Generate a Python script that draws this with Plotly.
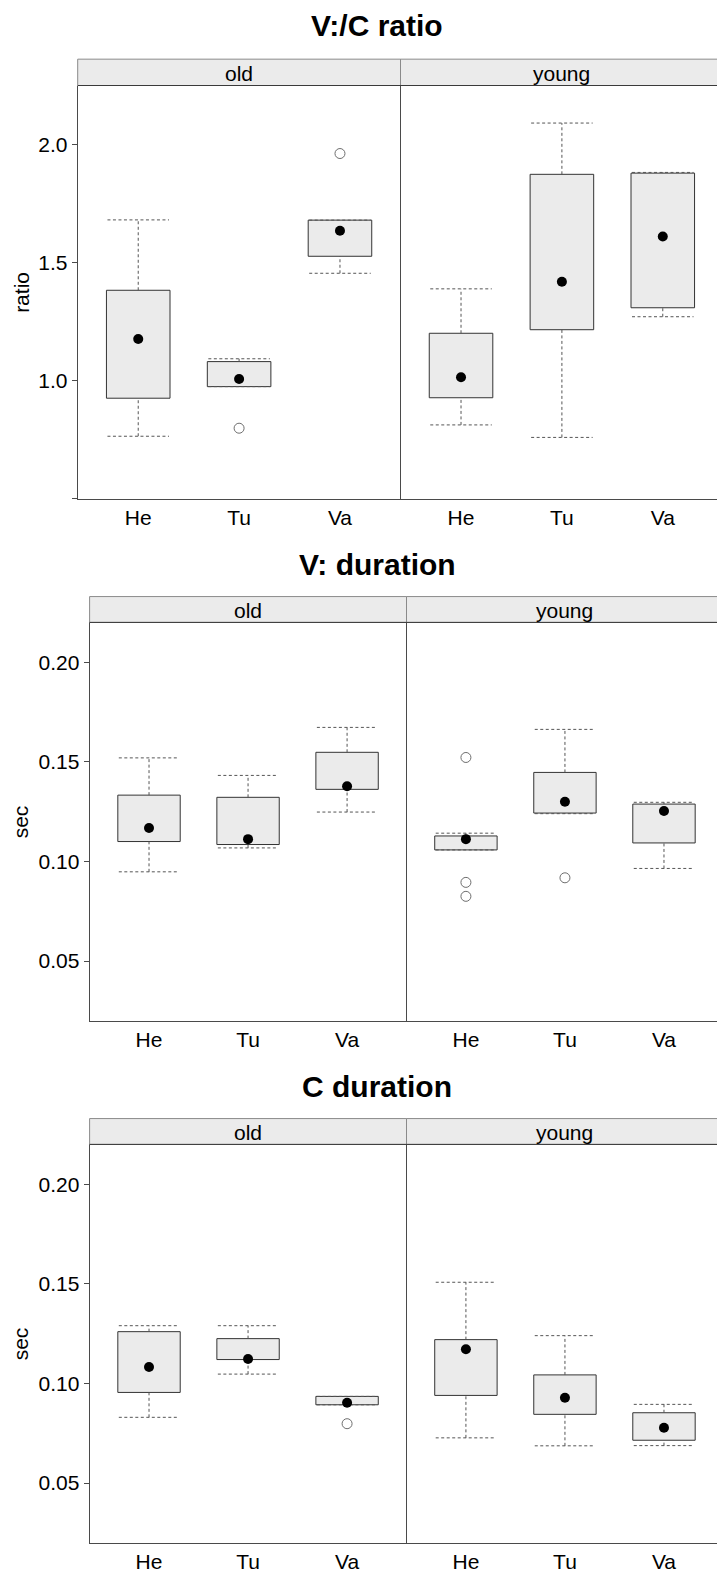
import plotly.graph_objects as go

# ---------------- data ----------------
categories = ["He", "Tu", "Va"]
facets = ["old", "young"]
titles = ["V:/C ratio", "V: duration", "C duration"]
ylabels = ["ratio", "sec", "sec"]

# V:/C ratio
ratio_lo  = {"old": [0.765, 0.975, 1.455], "young": [0.813, 0.760, 1.271]}
ratio_q1  = {"old": [0.926, 0.975, 1.527], "young": [0.928, 1.216, 1.309]}
ratio_med = {"old": [1.177, 1.007, 1.635], "young": [1.015, 1.419, 1.611]}
ratio_q3  = {"old": [1.383, 1.081, 1.680], "young": [1.201, 1.874, 1.879]}
ratio_hi  = {"old": [1.681, 1.093, 1.680], "young": [1.389, 2.091, 1.882]}
ratio_out = {"old": [[], [0.799], [1.962]], "young": [[], [], []]}

# V: duration
vdur_lo  = {"old": [0.0948, 0.1068, 0.1248], "young": [0.1058, 0.1240, 0.0965]}
vdur_q1  = {"old": [0.1100, 0.1085, 0.1362], "young": [0.1058, 0.1243, 0.1093]}
vdur_med = {"old": [0.1168, 0.1112, 0.1378], "young": [0.1112, 0.1300, 0.1253]}
vdur_q3  = {"old": [0.1333, 0.1322, 0.1548], "young": [0.1128, 0.1447, 0.1288]}
vdur_hi  = {"old": [0.1520, 0.1432, 0.1673], "young": [0.1142, 0.1663, 0.1297]}
vdur_out = {"old": [[], [], []], "young": [[0.1522, 0.0895, 0.0825], [0.0918], []]}

# C duration
cdur_lo  = {"old": [0.0830, 0.1047, 0.0893], "young": [0.0727, 0.0687, 0.0688]}
cdur_q1  = {"old": [0.0955, 0.1120, 0.0893], "young": [0.0940, 0.0845, 0.0715]}
cdur_med = {"old": [0.1083, 0.1123, 0.0903], "young": [0.1172, 0.0928, 0.0778]}
cdur_q3  = {"old": [0.1260, 0.1225, 0.0935], "young": [0.1220, 0.1043, 0.0853]}
cdur_hi  = {"old": [0.1290, 0.1290, 0.0935], "young": [0.1508, 0.1240, 0.0895]}
cdur_out = {"old": [[], [], [0.0798]], "young": [[], [], []]}

ratio_ticks = [0.5, 1.0, 1.5, 2.0]
ratio_ticktext = ["", "1.0", "1.5", "2.0"]
sec_ticks = [0.05, 0.10, 0.15, 0.20]
sec_ticktext = ["0.05", "0.10", "0.15", "0.20"]

ratio_range = [0.5, 2.25]
sec_range = [0.02, 0.22]

stats = [
    (ratio_lo, ratio_q1, ratio_med, ratio_q3, ratio_hi, ratio_out),
    (vdur_lo, vdur_q1, vdur_med, vdur_q3, vdur_hi, vdur_out),
    (cdur_lo, cdur_q1, cdur_med, cdur_q3, cdur_hi, cdur_out),
]
yticks = [(ratio_ticks, ratio_ticktext), (sec_ticks, sec_ticktext), (sec_ticks, sec_ticktext)]
yranges = [ratio_range, sec_range, sec_range]

# ---------------- layout geometry (pixels) ----------------
W, H = 717, 1573
geom = [
    dict(left=77.7, mid=400.5, top=86.0, bottom=501.7, strip_top=59.5, title_y=24.7),
    dict(left=89.6, mid=406.5, top=626.0, bottom=1026.7, strip_top=600.0, title_y=566.7),
    dict(left=89.6, mid=406.5, top=1151.0, bottom=1551.7, strip_top=1125.0, title_y=1092.2),
]
TITLE_X = 377.0
YLAB_X = 20.7

FONT = "Liberation Sans, Arial, Helvetica, sans-serif"
BOX_FILL = "#EBEBEB"
BOX_LINE = "#333333"
WHISK = "#555555"
FRAME = "#4a4a4a"
BOX_W = 0.63
CAP_W = 0.61


def fx(px):
    return px / W


def fy(px):
    return 1 - px / H


fig = go.Figure()
layout = dict(
    width=W, height=H, margin=dict(l=0, r=0, t=0, b=0),
    paper_bgcolor="white", plot_bgcolor="white",
    showlegend=False, font=dict(family=FONT, size=21, color="black"),
)
shapes = []
annotations = []

xpos = [i + 1 for i in range(len(categories))]

for p in range(3):
    g = geom[p]
    lo, q1, med, q3, hi, out = stats[p]
    old_w = g["mid"] - g["left"]
    young_w = W - g["mid"]
    for f, facet in enumerate(facets):
        idx = p * 2 + f + 1
        xa = "x" if idx == 1 else f"x{idx}"
        ya = "y" if idx == 1 else f"y{idx}"
        xkey = "xaxis" if idx == 1 else f"xaxis{idx}"
        ykey = "yaxis" if idx == 1 else f"yaxis{idx}"
        if f == 0:
            dom = [fx(g["left"]), fx(g["mid"])]
            xr = [0.4, 3.6]
        else:
            dom = [fx(g["mid"]), 1.0]
            xr = [0.4, 0.4 + 3.2 * young_w / old_w]
        layout[xkey] = dict(
            domain=dom, range=xr, anchor=ya, tickmode="array",
            tickvals=xpos, ticktext=categories, ticks="", showgrid=False,
            zeroline=False, showline=True, linecolor=FRAME, linewidth=1,
            tickfont=dict(size=21, family=FONT, color="black"), fixedrange=True,
        )
        ydict = dict(
            domain=[fy(g["bottom"]), fy(g["top"])], range=yranges[p], anchor=xa,
            showgrid=False, zeroline=False, showline=True, linecolor=FRAME,
            linewidth=1, fixedrange=True,
        )
        if f == 0:
            ydict.update(tickmode="array", tickvals=yticks[p][0], ticktext=yticks[p][1],
                         ticks="outside", ticklen=5, tickcolor=FRAME, tickwidth=1,
                         tickfont=dict(size=21, family=FONT, color="black"))
        else:
            ydict.update(showticklabels=False, ticks="")
        layout[ykey] = ydict

        L, Q1, M, Q3, HI, OUT = lo[facet], q1[facet], med[facet], q3[facet], hi[facet], out[facet]

        # boxes
        fig.add_trace(go.Bar(
            x=xpos, base=Q1, y=[b - a for a, b in zip(Q1, Q3)], width=BOX_W,
            marker=dict(color=BOX_FILL, line=dict(color=BOX_LINE, width=1)),
            xaxis=xa, yaxis=ya, hoverinfo="skip",
        ))
        # whiskers
        wx, wy = [], []
        for i, x in enumerate(xpos):
            if HI[i] > Q3[i]:
                wx += [x, x, None]
                wy += [Q3[i], HI[i], None]
            if L[i] < Q1[i]:
                wx += [x, x, None]
                wy += [L[i], Q1[i], None]
            wx += [x - CAP_W / 2, x + CAP_W / 2, None, x - CAP_W / 2, x + CAP_W / 2, None]
            wy += [HI[i], HI[i], None, L[i], L[i], None]
        fig.add_trace(go.Scatter(
            x=wx, y=wy, mode="lines",
            line=dict(color=WHISK, width=1, dash="3px,2.5px"),
            xaxis=xa, yaxis=ya, hoverinfo="skip",
        ))
        # medians
        fig.add_trace(go.Scatter(
            x=xpos, y=M, mode="markers",
            marker=dict(symbol="circle", size=10, color="black"),
            xaxis=xa, yaxis=ya, hoverinfo="skip",
        ))
        # outliers
        ox, oy = [], []
        for i, x in enumerate(xpos):
            for v in OUT[i]:
                ox.append(x)
                oy.append(v)
        if ox:
            fig.add_trace(go.Scatter(
                x=ox, y=oy, mode="markers",
                marker=dict(symbol="circle-open", size=10, color="#6e6e6e",
                            line=dict(width=1, color="#6e6e6e")),
                xaxis=xa, yaxis=ya, hoverinfo="skip",
            ))

        # strip
        x0 = g["left"] if f == 0 else g["mid"]
        x1 = g["mid"] if f == 0 else g["mid"] + old_w
        shapes.append(dict(
            type="rect", xref="paper", yref="paper",
            x0=fx(x0), x1=fx(x1), y0=fy(g["top"]), y1=fy(g["strip_top"]),
            fillcolor=BOX_FILL, line=dict(color="#8a8a8a", width=1), layer="above",
        ))
        annotations.append(dict(
            xref="paper", yref="paper", x=fx((x0 + x1) / 2),
            y=fy((g["top"] + g["strip_top"]) / 2 + 1), text=facet, showarrow=False,
            xanchor="center", yanchor="middle", font=dict(size=21, family=FONT, color="black"),
        ))
    # strip bottom line (darker)
    shapes.append(dict(
        type="line", xref="paper", yref="paper", x0=fx(g["left"]), x1=1.0,
        y0=fy(g["top"]), y1=fy(g["top"]), line=dict(color="#3a3a3a", width=1), layer="above",
    ))
    # title
    annotations.append(dict(
        xref="paper", yref="paper", x=fx(TITLE_X), y=fy(g["title_y"] + 1), text=f"<b>{titles[p]}</b>",
        showarrow=False, xanchor="center", yanchor="middle",
        font=dict(size=30, family=FONT, color="black"),
    ))
    # y label
    annotations.append(dict(
        xref="paper", yref="paper", x=fx(YLAB_X), y=fy((g["top"] + g["bottom"]) / 2),
        text=ylabels[p], textangle=-90, showarrow=False, xanchor="center", yanchor="middle",
        font=dict(size=21, family=FONT, color="black"),
    ))

layout["shapes"] = shapes
layout["annotations"] = annotations
fig.update_layout(**layout)
fig.write_html(
    "out.html",
    config={"displayModeBar": False},
    post_script="document.body.style.margin='0';document.body.style.overflow='hidden';",
)
